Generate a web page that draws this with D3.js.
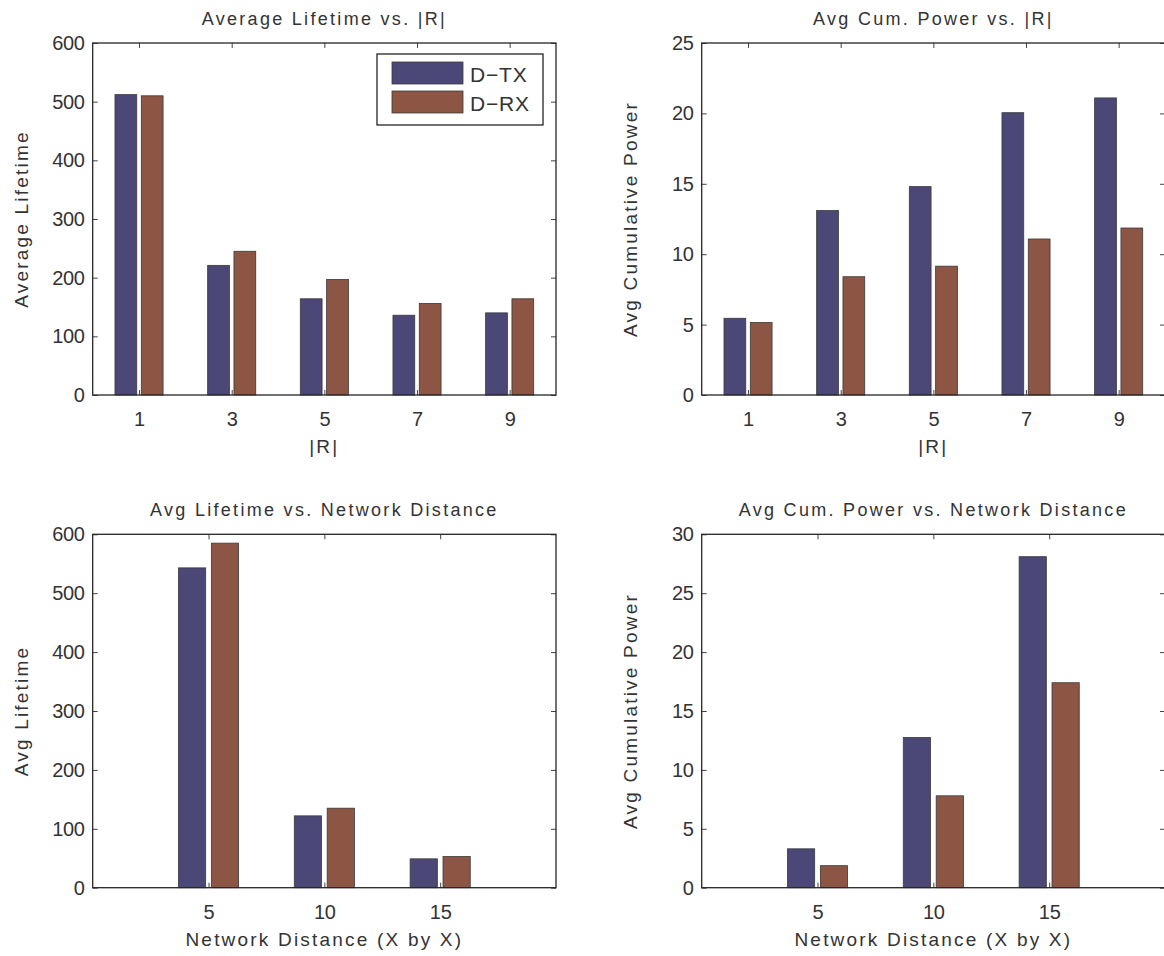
<!DOCTYPE html>
<html>
<head>
<meta charset="utf-8">
<script src="https://cdn.jsdelivr.net/npm/d3@7"></script>
<style>
  body { margin: 0; background: #fff; }
  text { font-family: "Liberation Sans", Arial, Helvetica, sans-serif; fill: #333; }
</style>
</head>
<body>
<div id="chart"></div>
<script>
// values

var seriesNames = ["D\u2212TX", "D\u2212RX"];
var seriesColors = ["#4b4777", "#8d5543"];

var rValues = [1, 3, 5, 7, 9];
var distValues = [5, 10, 15];

var lifetimeR_TX = [512, 221, 164, 136, 140];
var lifetimeR_RX = [510, 245, 197, 156, 164];

var powerR_TX = [5.45, 13.1, 14.8, 20.05, 21.1];
var powerR_RX = [5.15, 8.4, 9.15, 11.08, 11.86];

var lifetimeDist_TX = [543, 122, 49];
var lifetimeDist_RX = [585, 135, 53];

var powerDist_TX = [3.3, 12.75, 28.1];
var powerDist_RX = [1.87, 7.8, 17.4];

var yTicksLifetime = [0, 100, 200, 300, 400, 500, 600];
var yTicksPowerR = [0, 5, 10, 15, 20, 25];
var yTicksPowerDist = [0, 5, 10, 15, 20, 25, 30];

var width = 1164, height = 956;

var svg = d3.select("#chart").append("svg")
    .attr("width", width)
    .attr("height", height);

var panels = [
    {
        box: {left: 92.7, right: 556, top: 43, bottom: 395},
        title: "Average Lifetime vs. |R|", xlabel: "|R|", ylabel: "Average Lifetime",
        cats: rValues, xDomain: [0, 10], spacing: 2,
        tx: lifetimeR_TX, rx: lifetimeR_RX,
        yDomain: [0, 600], yTicks: yTicksLifetime,
        legend: true
    },
    {
        box: {left: 701.7, right: 1165, top: 43, bottom: 395},
        title: "Avg Cum. Power vs. |R|", xlabel: "|R|", ylabel: "Avg Cumulative Power",
        cats: rValues, xDomain: [0, 10], spacing: 2,
        tx: powerR_TX, rx: powerR_RX,
        yDomain: [0, 25], yTicks: yTicksPowerR
    },
    {
        box: {left: 92.7, right: 556, top: 534.3, bottom: 887.7},
        title: "Avg Lifetime vs. Network Distance", xlabel: "Network Distance (X by X)", ylabel: "Avg Lifetime",
        cats: distValues, xDomain: [0, 20], spacing: 5,
        tx: lifetimeDist_TX, rx: lifetimeDist_RX,
        yDomain: [0, 600], yTicks: yTicksLifetime
    },
    {
        box: {left: 701.7, right: 1165, top: 534.3, bottom: 887.7},
        title: "Avg Cum. Power vs. Network Distance", xlabel: "Network Distance (X by X)", ylabel: "Avg Cumulative Power",
        cats: distValues, xDomain: [0, 20], spacing: 5,
        tx: powerDist_TX, rx: powerDist_RX,
        yDomain: [0, 30], yTicks: yTicksPowerDist
    }
];

panels.forEach(drawPanel);

function drawPanel(p) {
    var b = p.box;
    var x = d3.scaleLinear().domain(p.xDomain).range([b.left, b.right]);
    var y = d3.scaleLinear().domain(p.yDomain).range([b.bottom, b.top]);

    var g = svg.append("g");

    // bars: two per group, MATLAB-style grouping
    var barW = 0.235 * p.spacing;
    var offs = [-0.142 * p.spacing, 0.142 * p.spacing];
    var series = [p.tx, p.rx];

    series.forEach(function(vals, si) {
        g.selectAll(".bar" + si)
          .data(p.cats.map(function(c, i) { return {c: c, v: vals[i]}; }))
        .enter().append("rect")
          .attr("x", function(d) { return x(d.c + offs[si] - barW / 2); })
          .attr("width", function(d) { return x(d.c + offs[si] + barW / 2) - x(d.c + offs[si] - barW / 2); })
          .attr("y", function(d) { return y(d.v); })
          .attr("height", function(d) { return y(0) - y(d.v); })
          .style("fill", seriesColors[si])
          .style("stroke", "#3a3a3a")
          .style("stroke-width", 0.8);
    });

    // axes, ticks pointing inwards on all sides
    var xb = g.append("g").attr("transform", "translate(0," + b.bottom + ")")
        .call(d3.axisBottom(x).tickValues(p.cats).tickSize(-5).tickPadding(17).tickFormat(d3.format("d")));
    var xt = g.append("g").attr("transform", "translate(0," + b.top + ")")
        .call(d3.axisTop(x).tickValues(p.cats).tickSize(-5).tickFormat(""));
    var yl = g.append("g").attr("transform", "translate(" + b.left + ",0)")
        .call(d3.axisLeft(y).tickValues(p.yTicks).tickSize(-5).tickPadding(8).tickFormat(d3.format("d")));
    var yr = g.append("g").attr("transform", "translate(" + b.right + ",0)")
        .call(d3.axisRight(y).tickValues(p.yTicks).tickSize(-5).tickFormat(""));

    [xb, xt, yl, yr].forEach(function(a) {
        a.select(".domain").remove();
        a.selectAll(".tick line").style("stroke", "#444").style("stroke-width", 1);
        a.selectAll(".tick text")
          .style("font-family", "'Liberation Sans', Arial, sans-serif")
          .style("font-size", "20px")
          .style("letter-spacing", "-0.3px")
          .style("fill", "#333");
    });

    g.append("rect")
      .attr("x", b.left).attr("y", b.top)
      .attr("width", b.right - b.left).attr("height", b.bottom - b.top)
      .style("fill", "none")
      .style("stroke", "#262626")
      .style("stroke-width", 1.3);

    var cx = (b.left + b.right) / 2;

    g.append("text")
      .attr("x", cx).attr("y", b.top - 18)
      .attr("text-anchor", "middle")
      .style("font-size", "18px")
      .style("letter-spacing", "2.3px")
      .text(p.title);

    g.append("text")
      .attr("x", cx).attr("y", b.bottom + 58)
      .attr("text-anchor", "middle")
      .style("font-size", "19px")
      .style("letter-spacing", "2.2px")
      .text(p.xlabel);

    g.append("text")
      .attr("transform", "translate(" + (b.left - 65) + "," + ((b.top + b.bottom) / 2) + ") rotate(-90)")
      .attr("text-anchor", "middle")
      .style("font-size", "19px")
      .style("letter-spacing", "2.2px")
      .text(p.ylabel);

    if (p.legend) {
        var lg = g.append("g").attr("transform", "translate(" + (b.right - 179) + "," + (b.top + 11) + ")");
        lg.append("rect")
          .attr("width", 166).attr("height", 71)
          .style("fill", "#fff").style("stroke", "#262626").style("stroke-width", 1.3);
        seriesNames.forEach(function(name, i) {
            lg.append("rect")
              .attr("x", 15).attr("y", 8 + i * 29)
              .attr("width", 71).attr("height", 22)
              .style("fill", seriesColors[i]).style("stroke", "#3a3a3a").style("stroke-width", 0.8);
            lg.append("text")
              .attr("x", 93).attr("y", 28 + i * 29)
              .style("font-size", "21px")
              .style("letter-spacing", "0.8px")
              .text(name);
        });
    }
}
</script>
</body>
</html>
